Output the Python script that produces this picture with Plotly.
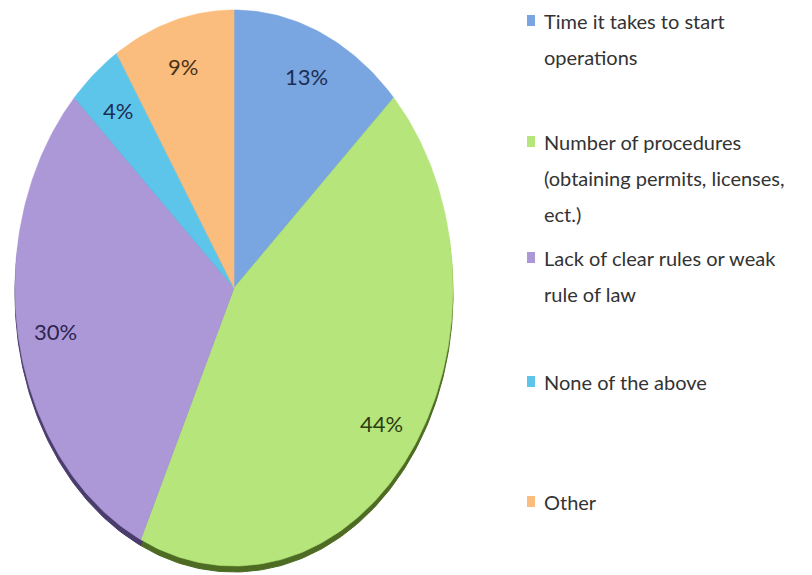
import numpy as np
import plotly.graph_objects as go

# Survey answers: main obstacle to starting a business
categories = [
    "Time it takes to start operations",
    "Number of procedures (obtaining permits, licenses, ect.)",
    "Lack of clear rules or weak rule of law",
    "None of the above",
    "Other",
]
legend_lines = [
    ["Time it takes to start", "operations"],
    ["Number of procedures", "(obtaining permits, licenses,", "ect.)"],
    ["Lack of clear rules or weak", "rule of law"],
    ["None of the above"],
    ["Other"],
]
shares = [13, 44, 30, 4, 9]
slice_colors = ["#79a5e0", "#b6e57b", "#ac98d7", "#5ec5ea", "#fbbd7e"]
label_colors = ["#1c2e55", "#2c3d12", "#2e2450", "#1c2e55", "#4a3214"]
edge_colors = ["#3f5f8c", "#4d6b22", "#4a3c6c", "#2f6f88", "#8a6030"]

W, H = 812, 575
CX, CY, RX, RY = 234, 288, 219, 278   # elliptical pie, pixel space
DEPTH = 6                              # thickness of the dark rim at the bottom
FONT = "Lato"

fig = go.Figure()

total = float(sum(shares))
bounds = np.concatenate([[0.0], np.cumsum(shares) / total])


def wedge(f0, f1, dy=0.0):
    t = np.linspace(2 * np.pi * f0, 2 * np.pi * f1, max(8, int(400 * (f1 - f0))))
    xs = np.concatenate([[CX], CX + RX * np.sin(t), [CX]])
    ys = np.concatenate([[CY + dy], CY + dy - RY * np.cos(t), [CY + dy]])
    return xs, ys


# dark rim (drawn first, offset downwards)
for i, name in enumerate(categories):
    xs, ys = wedge(bounds[i], bounds[i + 1], DEPTH)
    fig.add_trace(go.Scatter(x=xs, y=ys, mode="lines", fill="toself",
                             fillcolor=edge_colors[i],
                             line=dict(width=1, color=edge_colors[i]),
                             hoverinfo="skip", showlegend=False))

# slices
for i, name in enumerate(categories):
    xs, ys = wedge(bounds[i], bounds[i + 1])
    fig.add_trace(go.Scatter(x=xs, y=ys, mode="lines", fill="toself",
                             fillcolor=slice_colors[i],
                             line=dict(width=0.6, color=slice_colors[i]),
                             name=name, hoverinfo="name", showlegend=False))

# percentage labels inside the slices
for i, v in enumerate(shares):
    mid = 2 * np.pi * (bounds[i] + bounds[i + 1]) / 2
    r = 0.83
    fig.add_annotation(x=CX + r * RX * np.sin(mid), y=CY - r * RY * np.cos(mid),
                       text=f"{v}%", showarrow=False, xref="x", yref="y",
                       font=dict(family=FONT, size=22, color=label_colors[i]))

# legend: swatch + wrapped text lines
legend_rows_y = [21, 142, 258, 382, 502]
LINE_GAP = 36
for i, lines in enumerate(legend_lines):
    y0 = legend_rows_y[i]
    fig.add_shape(type="rect", xref="x", yref="y",
                  x0=527, x1=535, y0=y0 - 6, y1=y0 + 5,
                  fillcolor=slice_colors[i], line=dict(width=0))
    for k, txt in enumerate(lines):
        fig.add_annotation(x=542, y=y0 + k * LINE_GAP, text=txt, showarrow=False,
                           xref="x", yref="y", xanchor="left", yanchor="middle",
                           font=dict(family=FONT, size=20, color="#333333"))

fig.update_layout(
    width=W, height=H,
    margin=dict(l=0, r=0, t=0, b=0),
    paper_bgcolor="white", plot_bgcolor="white",
    xaxis=dict(range=[0, W], visible=False, fixedrange=True),
    yaxis=dict(range=[H, 0], visible=False, fixedrange=True),
    showlegend=False,
)

fig.write_html("out.html")
